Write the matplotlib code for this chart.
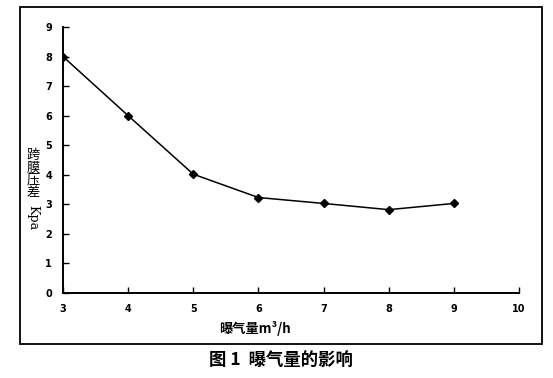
import numpy as np
import matplotlib
matplotlib.use("Agg")
import matplotlib.pyplot as plt
from matplotlib.patches import Rectangle

plt.rcParams['font.family'] = ['Noto Sans CJK SC', 'DejaVu Sans']

# données
aeration = [3, 4, 5, 6, 7, 8, 9]
tmp_kpa = [8.0, 6.0, 4.02, 3.23, 3.03, 2.82, 3.03]
xticks = [3, 4, 5, 6, 7, 8, 9, 10]
yticks = [0, 1, 2, 3, 4, 5, 6, 7, 8, 9]

W, H = 553, 378
fig = plt.figure(figsize=(W/100, H/100), dpi=100)
ax = fig.add_axes([63/W, 1-293/H, (519-63)/W, (293-27)/H])

ax.plot(aeration, tmp_kpa, 'k-', lw=1.1, marker='D', ms=4.5, mfc='k', mec='k')

ax.set_xlim(3, 10)
ax.set_ylim(0, 9)
ax.set_xticks(xticks)
ax.set_yticks(yticks)
ax.spines['top'].set_visible(False)
ax.spines['right'].set_visible(False)
ax.spines['left'].set_linewidth(1.4)
ax.spines['bottom'].set_linewidth(1.4)
ax.tick_params(direction='in', length=4, width=1, labelsize=7, pad=8)
for lab in ax.get_xticklabels() + ax.get_yticklabels():
    lab.set_fontweight('bold')
    lab.set_family('DejaVu Sans')

# titre de l'axe y écrit verticalement
fig.text(33/W, 1-174/H, "跨\n膜\n压\n差", ha='center', va='center', fontsize=9.5,
         linespacing=0.92)
fig.text(33/W, 1-218/H, "Kpa", ha='center', va='center', fontsize=9,
         rotation=-90, family='DejaVu Serif')

fig.text(255/W, 1-329/H, "曝气量m³/h", ha='center', va='center', fontsize=9.5,
         fontweight='bold')

# cadre autour du graphe
fig.patches.append(Rectangle((20/W, 1-344/H), (542-20)/W, (344-7)/H,
                             transform=fig.transFigure, fill=False,
                             ec='k', lw=1.3))

fig.text(281/W, 1-361/H, "图 1  曝气量的影响", ha='center', va='center',
         fontsize=12.5, fontweight='bold')

fig.savefig("out.png", dpi=100)
